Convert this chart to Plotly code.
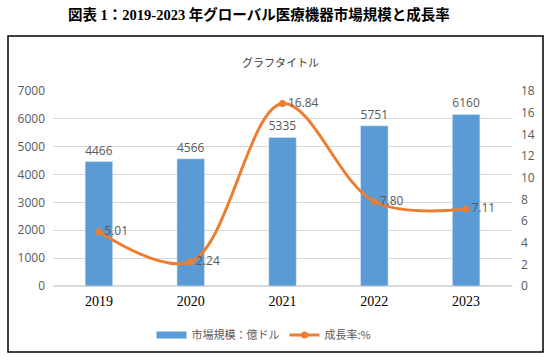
import plotly.graph_objects as go

years = ["2019", "2020", "2021", "2022", "2023"]
market_size = [4466, 4566, 5335, 5751, 6160]
growth_rate = [5.01, 2.24, 16.84, 7.80, 7.11]
growth_labels = ["5.01", "2.24", "16.84", "7.80", "7.11"]

BLUE = "#5B9BD5"
ORANGE = "#ED7D31"
GRAY = "#595959"

fig = go.Figure()
fig.add_trace(go.Bar(
    x=years, y=market_size, name="市場規模：億ドル", showlegend=False,
    marker_color=BLUE, text=[str(v) for v in market_size],
    textposition="outside", cliponaxis=False,
    textfont=dict(size=12, color=GRAY, family="Open Sans, Noto Sans CJK JP"),
))
# legend swatch for the bars (wide rectangle like the original)
fig.add_trace(go.Scatter(
    x=[None], y=[None], name="市場規模：億ドル", mode="lines",
    line=dict(color=BLUE, width=7),
))
fig.add_trace(go.Scatter(
    x=years, y=growth_rate, name="成長率:%", yaxis="y2",
    mode="lines+markers+text", line=dict(color=ORANGE, width=3, shape="spline", smoothing=1.0),
    marker=dict(size=7, color=ORANGE), text=growth_labels, textposition="middle right",
    textfont=dict(size=12, color=GRAY, family="Open Sans, Noto Sans CJK JP"),
    cliponaxis=False,
))

L, R, T, B = 53, 42, 91, 74
pw = 554 - L - R
ph = 360 - T - B

def px_x(px):
    return (px - L) / pw

def px_y(py):
    return (360 - B - py) / ph

fig.update_layout(
    width=554, height=360,
    margin=dict(l=L, r=R, t=T, b=B, autoexpand=False),
    paper_bgcolor="white", plot_bgcolor="white",
    bargap=0.7,
    showlegend=True,
    legend=dict(orientation="h", xref="container", yref="container",
                x=264 / 554, xanchor="center", y=1 - 335 / 360, yanchor="middle",
                font=dict(size=11, color=GRAY, family="Noto Sans CJK JP"),
                itemwidth=30, tracegroupgap=0),
    xaxis=dict(tickfont=dict(size=14, color="black", family="Liberation Serif"),
               showline=False, ticks="", showgrid=False, ticklabelstandoff=5),
    yaxis=dict(range=[0, 7000], dtick=1000, showgrid=True, gridcolor="#D9D9D9", gridwidth=1,
               zeroline=True, zerolinecolor="#D9D9D9", ticklabelstandoff=7,
               tickfont=dict(size=12, color=GRAY, family="Open Sans"), ticks="", showline=False),
    yaxis2=dict(range=[0, 18], dtick=2, overlaying="y", side="right", showgrid=False,
                zeroline=False, ticklabelstandoff=8,
                tickfont=dict(size=12, color=GRAY, family="Open Sans"), ticks=""),
    shapes=[dict(type="rect", xref="paper", yref="paper",
                 x0=px_x(8), x1=px_x(543), y0=px_y(352), y1=px_y(36),
                 line=dict(color="black", width=1.5), fillcolor="rgba(0,0,0,0)", layer="below")],
    annotations=[
        dict(text="<b>図表 1：2019-2023 年グローバル医療機器市場規模と成長率</b>",
             xref="paper", yref="paper", x=px_x(259), y=px_y(14), xanchor="center", yanchor="middle",
             showarrow=False, font=dict(size=14.5, color="black", family="Liberation Serif, Noto Sans CJK JP")),
        dict(text="グラフタイトル", xref="paper", yref="paper", x=px_x(280), y=px_y(62),
             xanchor="center", yanchor="middle", showarrow=False,
             font=dict(size=11, color="#404040", family="Noto Sans CJK JP")),
    ],
)

fig.write_html("out.html", config={"displayModeBar": False},
               post_script="document.body.style.margin='0';document.body.style.overflow='hidden';")
